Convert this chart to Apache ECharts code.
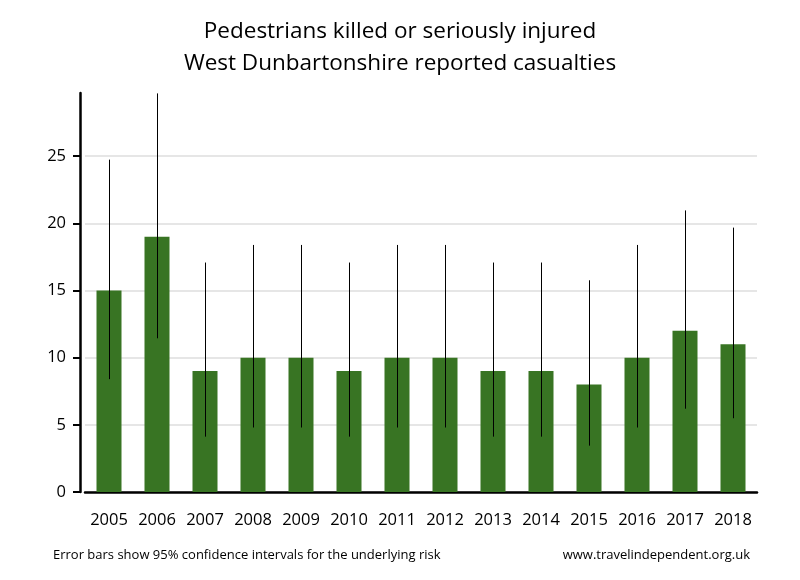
<!DOCTYPE html>
<html><head><meta charset="utf-8">
<script src="https://cdn.jsdelivr.net/npm/echarts@6/dist/echarts.min.js"></script>
<style>html,body{margin:0;padding:0;background:#fff}#c{width:800px;height:580px}</style>
</head><body><div id="c"></div>
<script>
const years = ['2005','2006','2007','2008','2009','2010','2011','2012','2013','2014','2015','2016','2017','2018'];
const casualties = [15,19,9,10,10,9,10,10,9,9,8,10,12,11];
const ciLower = [8.40,11.44,4.12,4.80,4.80,4.12,4.80,4.80,4.12,4.12,3.45,4.80,6.20,5.49];
const ciUpper = [24.74,29.67,17.08,18.39,18.39,17.08,18.39,18.39,17.08,17.08,15.76,18.39,20.96,19.68];
const yTicks = [0,5,10,15,20,25];

const chart = echarts.init(document.getElementById('c'));
chart.setOption({
  animation:false,
  backgroundColor:'#fff',
  title:[{
    text:'Pedestrians killed or seriously injured\nWest Dunbartonshire reported casualties',
    left:'center', top:11,
    textStyle:{fontFamily:'Open Sans', fontSize:22.5, fontWeight:'normal', color:'#000', lineHeight:32}
  },{
    text:'Error bars show 95% confidence intervals for the underlying risk',
    left:48, top:544,
    textStyle:{fontFamily:'Open Sans', fontSize:13, fontWeight:'normal', color:'#000'}
  },{
    text:'www.travelindependent.org.uk',
    right:45, top:544,
    textStyle:{fontFamily:'Open Sans', fontSize:13, fontWeight:'normal', color:'#000'}
  }],
  grid:{left:85, width:672, top:93, bottom:88},
  xAxis:{
    type:'category', data:years,
    axisLine:{lineStyle:{color:'#000', width:2.5}},
    axisTick:{show:false},
    axisLabel:{color:'#000', fontFamily:'Open Sans', fontSize:16.5, margin:20, interval:0, hideOverlap:false}
  },
  yAxis:{
    type:'value', min:0, max:29.7, interval:5, offset:5,
    axisLine:{show:true, lineStyle:{color:'#000', width:2.5}},
    axisTick:{show:true, length:7, lineStyle:{color:'#000', width:2}, customValues:yTicks},
    axisLabel:{color:'#000', fontFamily:'Open Sans', fontSize:16.5, margin:14, customValues:yTicks},
    splitLine:{show:true, lineStyle:{color:['#e6e6e6','#e6e6e6','#e6e6e6','#e6e6e6','#e6e6e6','#e6e6e6','rgba(0,0,0,0)'], width:2}}
  },
  series:[{
    type:'bar', data:casualties, barWidth:25,
    itemStyle:{color:'#387423'}
  },{
    type:'custom',
    data:years.map((y,i)=>[i, ciLower[i], ciUpper[i]]),
    renderItem:(params, api)=>{
      const lo = api.coord([api.value(0), api.value(1)]);
      const hi = api.coord([api.value(0), api.value(2)]);
      const x = Math.round(lo[0])+0.5;
      return {type:'line', shape:{x1:x, y1:lo[1], x2:x, y2:hi[1]}, style:{stroke:'#000', lineWidth:1}};
    },
    z:5
  }]
});
</script></body></html>
